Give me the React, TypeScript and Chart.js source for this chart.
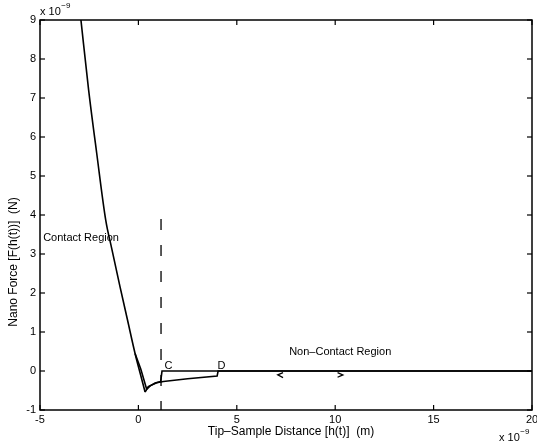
import React, { useEffect, useRef } from "react";
import { Chart, registerables } from "chart.js";

Chart.register(...registerables);

// Tip-sample distance (x 1e-9 m) and nano force (x 1e-9 N)
// contact-region curve (shared by approach and retract)
const contactX = [-2.92, -2.53, -2.12, -1.66, -1.36, -0.93, -0.55, -0.17, 0.08, 0.34];
const contactF = [9.0, 7.21, 5.59, 3.87, 3.15, 2.15, 1.3, 0.45, -0.04, -0.54];
// retract: bottom of the well back out to D, then jump to zero
const retractX = [0.34, 0.5, 0.93, 1.27, 2.5, 4.0, 4.05, 10, 20];
const retractF = [-0.54, -0.4, -0.3, -0.27, -0.2, -0.13, 0, 0, 0];
// approach: along zero to C, snap down, into the well and up the contact side
const approachX = [20, 10, 4, 1.2, 1.17, 1.13, 0.85, 0.6, 0.42, 0.12, -0.17];
const approachF = [0, 0, 0, 0, -0.12, -0.27, -0.31, -0.38, -0.47, 0.05, 0.45];
const boundaryX = [1.15, 1.15];
const boundaryF = [3.9, -1];
const arrowLX = [7.35, 7.08, 7.35];
const arrowLF = [-0.04, -0.1, -0.17];
const arrowRX = [10.12, 10.39, 10.12];
const arrowRF = [-0.04, -0.1, -0.16];

const xTicks = [-5, 0, 5, 10, 15, 20];
const yTicks = [-1, 0, 1, 2, 3, 4, 5, 6, 7, 8, 9];

const xTitle = "Tip\u2013Sample Distance [h(t)]  (m)";
const yTitle = "Nano Force [F(h(t))]  (N)";
const notes = [
  { text: "Contact Region", x: -4.84, y: 3.4 },
  { text: "Non\u2013Contact Region", x: 7.66, y: 0.5 },
  { text: "C", x: 1.32, y: 0.14 },
  { text: "D", x: 4.02, y: 0.14 },
];

const pts = (xs: number[], ys: number[]) => xs.map((x, i) => ({ x, y: ys[i] }));

const FONT = "'Liberation Sans', Arial, Helvetica, sans-serif";

const framePlugin = {
  id: "frameTicks",
  afterDraw(chart: any) {
    const { ctx, chartArea: a, scales } = chart;
    const xs = scales.x;
    const ys = scales.y;
    ctx.save();
    ctx.strokeStyle = "#000";
    ctx.lineWidth = 1.5;
    ctx.strokeRect(a.left, a.top, a.right - a.left, a.bottom - a.top);
    ctx.lineWidth = 1.2;
    const seg = (x1: number, y1: number, x2: number, y2: number) => {
      ctx.beginPath();
      ctx.moveTo(x1, y1);
      ctx.lineTo(x2, y2);
      ctx.stroke();
    };
    xTicks.forEach((v) => {
      const p = xs.getPixelForValue(v);
      seg(p, a.bottom, p, a.bottom - 5);
      seg(p, a.top, p, a.top + 5);
    });
    yTicks.forEach((v) => {
      const p = ys.getPixelForValue(v);
      seg(a.left, p, a.left + 5, p);
      seg(a.right, p, a.right - 5, p);
    });
    ctx.fillStyle = "#000";
    ctx.font = `11px ${FONT}`;
    ctx.textBaseline = "middle";
    ctx.textAlign = "left";
    notes.forEach((n) => {
      ctx.fillText(n.text, xs.getPixelForValue(n.x), ys.getPixelForValue(n.y));
    });
    // axis titles
    ctx.font = `12px ${FONT}`;
    ctx.textAlign = "center";
    ctx.fillText(xTitle, 291, 432);
    ctx.save();
    ctx.translate(14, 262);
    ctx.rotate(-Math.PI / 2);
    ctx.fillText(yTitle, 0, 0);
    ctx.restore();
    // exponents
    ctx.textAlign = "left";
    const expo = (x: number, y: number) => {
      ctx.font = `11px ${FONT}`;
      ctx.fillText("x 10", x, y);
      const w = ctx.measureText("x 10").width;
      ctx.font = `8px ${FONT}`;
      ctx.fillText("\u22129", x + w + 0.5, y - 6);
    };
    expo(40, 12);
    expo(499, 438);
    ctx.restore();
  },
};

export default function App() {
  const ref = useRef<HTMLCanvasElement>(null);
  useEffect(() => {
    if (!ref.current) return;
    const line = (data: any, extra: any = {}) => ({
      data,
      borderColor: "#000",
      borderWidth: 1.6,
      pointRadius: 0,
      fill: false,
      tension: 0,
      showLine: true,
      ...extra,
    });
    const chart = new Chart(ref.current, {
      type: "scatter",
      data: {
        datasets: [
          line(pts(contactX, contactF), { cubicInterpolationMode: "monotone" }),
          line(pts(retractX, retractF)),
          line(pts(approachX, approachF)),
          line(pts(boundaryX, boundaryF), { borderDash: [11, 15], borderWidth: 1.3 }),
          line(pts(arrowLX, arrowLF), { borderWidth: 1.3 }),
          line(pts(arrowRX, arrowRF), { borderWidth: 1.3 }),
        ],
      },
      options: {
        responsive: false,
        animation: false,
        layout: { padding: { top: 20, right: 5, left: 0, bottom: 0 } },
        plugins: { legend: { display: false }, tooltip: { enabled: false } },
        scales: {
          x: {
            type: "linear",
            min: -5,
            max: 20,
            afterFit: (s: any) => {
              s.height = 36;
              s.paddingLeft = 0;
              s.paddingRight = 0;
            },
            afterBuildTicks: (s: any) => {
              s.ticks = xTicks.map((v) => ({ value: v }));
            },
            grid: { display: false, drawTicks: false, tickLength: 0 },
            border: { display: false },
            ticks: { color: "#000", font: { family: FONT, size: 11 }, padding: 3, maxRotation: 0 },
          },
          y: {
            type: "linear",
            min: -1,
            max: 9,
            afterFit: (s: any) => {
              s.width = 40;
              s.paddingTop = 0;
              s.paddingBottom = 0;
            },
            afterBuildTicks: (s: any) => {
              s.ticks = yTicks.map((v) => ({ value: v }));
            },
            grid: { display: false, drawTicks: false, tickLength: 0 },
            border: { display: false },
            ticks: { color: "#000", font: { family: FONT, size: 11 }, padding: 4 },
          },
        },
      },
      plugins: [framePlugin],
    });
    return () => chart.destroy();
  }, []);
  return (
    <div style={{ position: "fixed", left: 0, top: 0, width: 537, height: 446, background: "#fff" }}>
      <canvas ref={ref} width={537} height={446} style={{ display: "block" }} />
    </div>
  );
}
